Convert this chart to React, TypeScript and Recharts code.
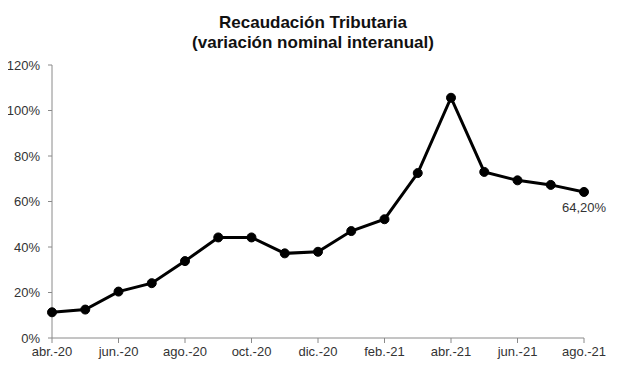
import { LineChart, Line, XAxis, YAxis, LabelList } from 'recharts';

// meses abr.-20 .. ago.-21
const months = [
  'abr.-20', 'may.-20', 'jun.-20', 'jul.-20', 'ago.-20', 'sep.-20', 'oct.-20', 'nov.-20',
  'dic.-20', 'ene.-21', 'feb.-21', 'mar.-21', 'abr.-21', 'may.-21', 'jun.-21', 'jul.-21', 'ago.-21',
];
const variacion = [
  11.3, 12.5, 20.4, 24.1, 33.8, 44.2, 44.2, 37.2,
  37.9, 47.0, 52.2, 72.5, 105.6, 73.0, 69.3, 67.3, 64.2,
];
const yTicks = [0, 20, 40, 60, 80, 100, 120];
const lastLabel = '64,20%';

const data = months.map((m, i) => ({ mes: m, valor: variacion[i] }));

const axisColor = '#8a8a8a';
const textColor = '#333333';
const font = '"Liberation Sans", Arial, sans-serif';

export default function App() {
  return (
    <div style={{ position: 'relative', width: 617, height: 384, margin: -8, background: '#fff', fontFamily: font }}>
      <div
        style={{
          position: 'absolute',
          left: 0,
          width: 626,
          top: 13,
          textAlign: 'center',
          fontWeight: 'bold',
          fontSize: 17,
          lineHeight: '20px',
          color: '#111',
        }}
      >
        Recaudación Tributaria
        <br />
        (variación nominal interanual)
      </div>
      <LineChart width={617} height={384} data={data} margin={{ top: 65, right: 33, bottom: 16, left: 0 }}>
        <XAxis
          dataKey="mes"
          interval={1}
          stroke={axisColor}
          tickSize={5}
          tickMargin={4}
          tick={{ fill: textColor, fontSize: 13, fontFamily: font }}
        />
        <YAxis
          width={52}
          domain={[0, 120]}
          ticks={yTicks}
          tickFormatter={(v: number) => `${v}%`}
          stroke={axisColor}
          tickSize={4}
          tickMargin={8}
          tick={{ fill: textColor, fontSize: 13, fontFamily: font }}
        />
        <Line
          dataKey="valor"
          stroke="#000"
          strokeWidth={3}
          dot={{ r: 4.5, fill: '#000', stroke: '#000', strokeWidth: 1 }}
          activeDot={false}
          isAnimationActive={false}
        >
          <LabelList
            dataKey="valor"
            content={(p: any) =>
              p.index === data.length - 1 ? (
                <text x={p.x} y={p.y + 20} textAnchor="middle" fill={textColor} fontSize={13} fontFamily={font}>
                  {lastLabel}
                </text>
              ) : null
            }
          />
        </Line>
      </LineChart>
    </div>
  );
}
